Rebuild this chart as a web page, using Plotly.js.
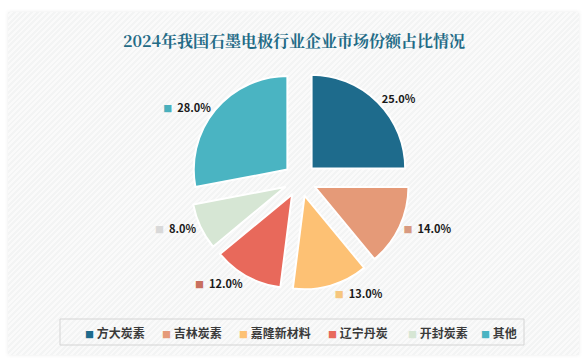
<!DOCTYPE html>
<html>
<head>
<meta charset="utf-8">
<script src="https://cdn.plot.ly/plotly-3.0.1.min.js"></script>
<style>
  html, body { margin: 0; padding: 0; background: #ffffff; }
  #wrap { position: relative; width: 588px; height: 364px; overflow: hidden; }
  #card { position: absolute; left: 8px; top: 12px; width: 571px; height: 343px;
    background: repeating-linear-gradient(135deg, #f3f4f4 0px, #f3f4f4 2px, #fafafa 2px, #fafafa 4px);
    box-shadow: 0 0 4px rgba(0,0,0,0.08); }
  #chart { position: absolute; left: 0; top: 0; width: 588px; height: 364px; }
</style>
</head>
<body>
<div id="wrap">
  <div id="card"></div>
  <div id="chart"></div>
</div>
<script>
// ---- data ----
const categories = ["方大炭素", "吉林炭素", "嘉隆新材料", "辽宁丹炭", "开封炭素", "其他"];
const shares = [25.0, 14.0, 13.0, 12.0, 8.0, 28.0];
const colors = ["#1e6b8c", "#e59a78", "#fdc174", "#e8695b", "#d6e6d4", "#4ab4c2"];
const labelSquareColors = [null, "#d89a80", "#f6c67e", "#c8705e", "#d9d9d9", "#4ab0bd"];
const titleText = "2024年我国石墨电极行业企业市场份额占比情况";

const W = 588, H = 364;
const cjk = "'Noto Sans CJK SC', 'Noto Sans', sans-serif";

const texttemplates = categories.map((c, i) =>
  labelSquareColors[i]
    ? "<span style='color:" + labelSquareColors[i] + ";font-size:9px'>■</span>  %{value:.1f}%"
    : "%{value:.1f}%"
);

const pie = {
  type: "pie",
  labels: categories,
  values: shares,
  sort: false,
  direction: "clockwise",
  rotation: 0,
  pull: categories.map(() => 0.175),
  marker: { colors: colors, line: { color: "#ffffff", width: 2 } },
  texttemplate: texttemplates,
  textposition: "outside",
  outsidetextfont: { family: cjk, size: 11, color: "#1a1a1a", weight: "bold" },
  hoverinfo: "label+percent",
  showlegend: false,
  domain: { x: [190 / W, 410 / W], y: [1 - 290 / H, 1 - 70 / H] }
};

// custom legend (compact swatch + text like the reference)
const legendX = [83, 160, 237, 326, 406, 479];
const annotations = categories.map((c, i) => ({
  xref: "paper", yref: "paper",
  x: legendX[i] / W, y: 1 - 332 / H,
  xanchor: "left", yanchor: "middle",
  showarrow: false,
  text: "<span style='color:" + colors[i] + ";font-size:9px'>■</span> " + c,
  font: { family: cjk, size: 12, color: "#3a3a3a", weight: "bold" }
}));

const layout = {
  width: W, height: H,
  margin: { l: 0, r: 0, t: 0, b: 0 },
  paper_bgcolor: "rgba(0,0,0,0)",
  plot_bgcolor: "rgba(0,0,0,0)",
  title: {
    text: titleText,
    x: 0.5, xanchor: "center",
    y: 1 - 41 / H, yanchor: "middle",
    font: { family: "'Noto Serif CJK SC', 'Noto Sans CJK SC', serif", size: 16, color: "#236b86", weight: "bold" }
  },
  annotations: annotations,
  shapes: [{
    type: "rect", xref: "paper", yref: "paper",
    x0: 60 / W, x1: 524 / W, y0: 1 - 345 / H, y1: 1 - 319 / H,
    line: { color: "#d4d4d4", width: 1 }, fillcolor: "rgba(0,0,0,0)"
  }],
  showlegend: false
};

Plotly.newPlot("chart", [pie], layout, { displayModeBar: false, staticPlot: true });
</script>
</body>
</html>
